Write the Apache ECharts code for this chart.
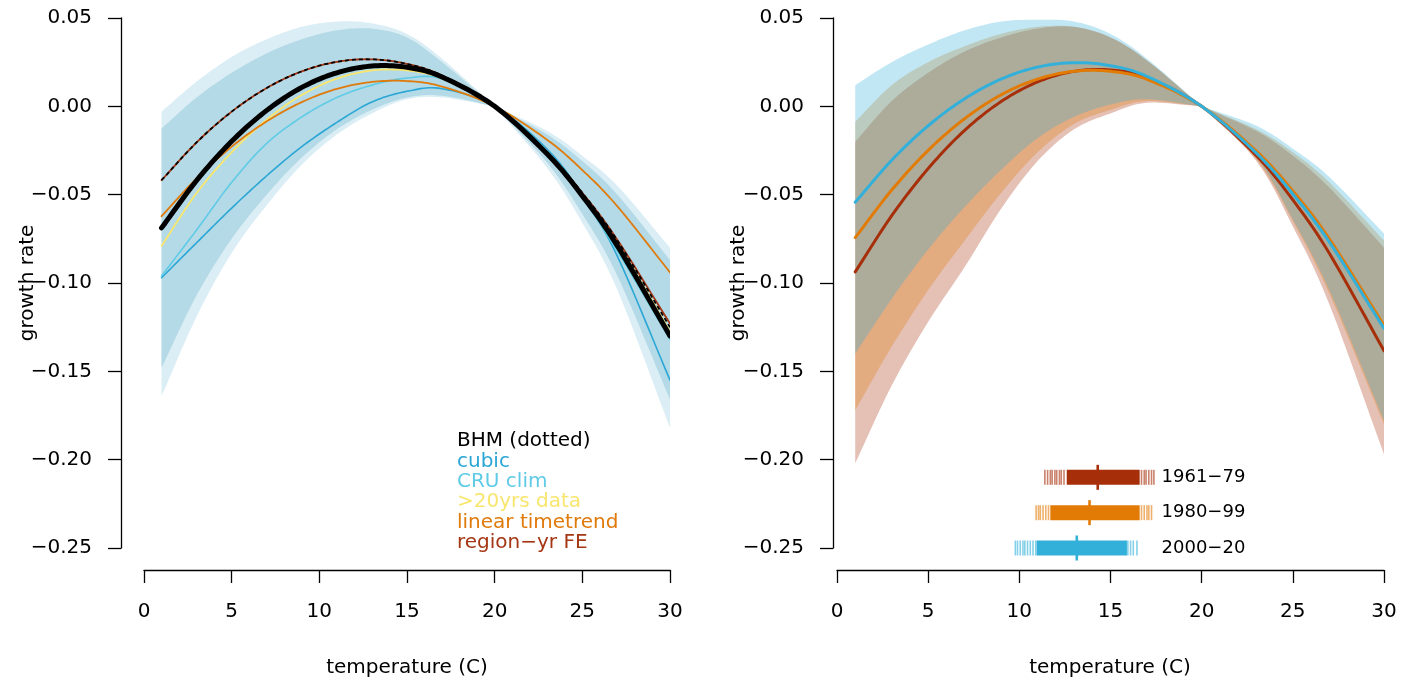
<!DOCTYPE html>
<html><head><meta charset="utf-8">
<script src="https://cdn.jsdelivr.net/npm/echarts@6/dist/echarts.min.js"></script>
<style>html,body{margin:0;padding:0;background:#fff}#c{width:1416px;height:687px}</style>
</head><body><div id="c"></div>
<script>
// ---------- data (temperature grid) ----------
const X = [1, 3, 5, 7, 9, 11, 13, 15, 17, 20, 23, 25, 27, 30];
const PINCH = 20; // all curves are normalised to 0 at 20 C

// left panel: model variants
const bhm        = [-0.0688,-0.0420,-0.0198,-0.0023,0.0107,0.0190,0.0228,0.0221,0.0166,0,-0.0270,-0.0507,-0.0790,-0.1300];
const bhmDotted  = [-0.0418,-0.0204,-0.0030,0.0104,0.0198,0.0252,0.0266,0.0240,0.0174,0,-0.0264,-0.0490,-0.0760,-0.1250];
const regionFE   = [-0.0418,-0.0204,-0.0030,0.0104,0.0198,0.0252,0.0266,0.0240,0.0174,0,-0.0264,-0.0490,-0.0756,-0.1230];
const cubic      = [-0.0970,-0.0772,-0.0576,-0.0393,-0.0228,-0.0091,0.0025,0.0085,0.0100,0,-0.0243,-0.0503,-0.0849,-0.1550];
const cruClim    = [-0.0960,-0.0700,-0.0430,-0.0210,-0.0060,0.0050,0.0120,0.0160,0.0155,0,-0.0270,-0.0520,-0.0820,-0.1320];
const over20yrs  = [-0.0790,-0.0491,-0.0260,-0.0075,0.0064,0.0157,0.0203,0.0203,0.0157,0,-0.0261,-0.0493,-0.0771,-0.1274];
const linTrend   = [-0.0622,-0.0408,-0.0228,-0.0085,0.0024,0.0099,0.0138,0.0143,0.0112,0,-0.0190,-0.0361,-0.0566,-0.0940];
// left panel uncertainty bands
const outerTop    = [-0.003,0.014,0.028,0.038,0.045,0.048,0.047,0.041,0.027,0,-0.014,-0.028,-0.045,-0.080];
const outerBottom = [-0.164,-0.119,-0.083,-0.056,-0.033,-0.016,-0.004,0.004,0.005,0,-0.035,-0.066,-0.104,-0.182];
const innerTop    = [-0.0125,0.005,0.019,0.030,0.038,0.043,0.044,0.039,0.025,0,-0.016,-0.031,-0.050,-0.087];
const innerBottom = [-0.148,-0.107,-0.075,-0.050,-0.029,-0.013,-0.002,0.005,0.006,0,-0.032,-0.061,-0.096,-0.166];

// right panel: periods
const p1961 = [-0.0937,-0.0619,-0.0352,-0.0136,0.0027,0.0138,0.0198,0.0206,0.0163,0,-0.0279,-0.0530,-0.0832,-0.1383];
const p1980 = [-0.0743,-0.0474,-0.0249,-0.0070,0.0065,0.0154,0.0199,0.0198,0.0153,0,-0.0254,-0.0479,-0.0750,-0.1240];
const p2000 = [-0.0543,-0.0305,-0.0110,0.0043,0.0154,0.0222,0.0247,0.0230,0.0170,0,-0.0265,-0.0496,-0.0768,-0.1257];
const p1961Top = [-0.020,0.003,0.019,0.031,0.039,0.044,0.045,0.039,0.026,0,-0.014,-0.028,-0.046,-0.080];
const p1961Bot = [-0.202,-0.158,-0.122,-0.091,-0.058,-0.031,-0.013,-0.004,0.002,0,-0.031,-0.068,-0.112,-0.197];
const p1980Top = [-0.0087,0.012,0.025,0.034,0.041,0.045,0.045,0.039,0.026,0,-0.013,-0.026,-0.043,-0.076];
const p1980Bot = [-0.172,-0.136,-0.104,-0.076,-0.049,-0.026,-0.010,-0.002,0.003,0,-0.030,-0.065,-0.106,-0.180];
const p2000Top = [0.012,0.025,0.035,0.043,0.048,0.049,0.048,0.041,0.027,0,-0.011,-0.024,-0.040,-0.072];
const p2000Bot = [-0.140,-0.109,-0.081,-0.057,-0.036,-0.018,-0.006,0.001,0.004,0,-0.029,-0.064,-0.104,-0.178];

// rug of observed temperatures per period
const rugLabels  = ['1961\u221279', '1980\u221299', '2000\u221220'];
const rugRowY    = [-0.21, -0.23, -0.25];
const rugMedian  = [14.3, 13.85, 13.15];
const rugDense   = [[12.6, 16.6], [11.7, 16.6], [10.95, 15.9]];
const rugSparse1961 = [11.4, 11.55, 11.7, 11.8, 11.95, 12.05, 12.2, 12.3, 12.45, 16.7, 16.85, 16.95, 17.1, 17.25, 17.38];
const rugSparse1980 = [10.92, 11.05, 11.15, 11.3, 11.45, 11.6, 16.7, 16.85, 17.0, 17.1, 17.25];
const rugSparse2000 = [9.78, 9.9, 10.05, 10.2, 10.3, 10.45, 10.6, 10.75, 10.9, 15.95, 16.1, 16.25, 16.45];

// axes ticks / labels
const xTicks = [0, 5, 10, 15, 20, 25, 30];
const yTicks = [-0.25, -0.20, -0.15, -0.10, -0.05, 0.00, 0.05];
const legendLabels = ['BHM (dotted)', 'cubic', 'CRU clim', '>20yrs data', 'linear timetrend', 'region\u2212yr FE'];

// ---------- styles ----------
const FONT = 'DejaVu Sans';
const C = {
  cubic: '#2ba6d5', cru: '#5fcbe6', yellow: '#f8e66e', orange: '#e07a0b', red: '#a53613',
  outer: '#dceef5', inner: '#b3dae6',
  r1961: '#a62f0a', r1980: '#e27b06', r2000: '#33b0da'
};
const legendColors = ['#000000', C.cubic, C.cru, C.yellow, C.orange, C.red];
const rugColors = [C.r1961, C.r1980, C.r2000];

// Catmull-Rom smoothing of pixel points (drawing only)
function spline(pts, n) {
  const out = [pts[0]];
  const N = pts.length;
  for (let i = 0; i < N - 1; i++) {
    const p1 = pts[i], p2 = pts[i + 1];
    const p0 = i > 0 ? pts[i - 1] : [2 * p1[0] - p2[0], 2 * p1[1] - p2[1]];
    const p3 = i < N - 2 ? pts[i + 2] : [2 * p2[0] - p1[0], 2 * p2[1] - p1[1]];
    for (let k = 1; k <= n; k++) {
      const t = k / n, t2 = t * t, t3 = t2 * t;
      const f = j => 0.5 * (2 * p1[j] + (-p0[j] + p2[j]) * t + (2 * p0[j] - 5 * p1[j] + 4 * p2[j] - p3[j]) * t2 + (-p0[j] + 3 * p1[j] - 3 * p2[j] + p3[j]) * t3);
      out.push([f(0), f(1)]);
    }
  }
  return out;
}
// band edges are smoothed separately on each side of the pinch point
function splitSpline(pts) {
  const k = X.indexOf(PINCH);
  const a = spline(pts.slice(0, k + 1), 12);
  const b = spline(pts.slice(k), 12);
  return a.concat(b.slice(1));
}

function bandSeries(lo, hi, color, opacity, gi, z) {
  return {type: 'custom', xAxisIndex: gi, yAxisIndex: gi, z: z, silent: true, clip: true,
    data: [[X[0], lo[0]]],
    renderItem: function (params, api) {
      const up = splitSpline(X.map((x, i) => api.coord([x, hi[i]])));
      const dn = splitSpline(X.map((x, i) => api.coord([x, lo[i]]))).reverse();
      return {type: 'polygon', shape: {points: up.concat(dn)}, style: {fill: color, opacity: opacity}};
    }};
}
function lineSeries(ys, color, width, gi, z, dash) {
  return {type: 'custom', xAxisIndex: gi, yAxisIndex: gi, z: z, silent: true, clip: true,
    data: [[X[0], ys[0]]],
    renderItem: function (params, api) {
      const pts = spline(X.map((x, i) => api.coord([x, ys[i]])), 12);
      return {type: 'polyline', shape: {points: pts},
        style: {stroke: color, lineWidth: width, fill: null, lineDash: dash || null, lineCap: dash ? 'butt' : 'round', lineJoin: 'round'}};
    }};
}

const fmtY = v => Math.abs(v) < 1e-9 ? '0.00' : (v < 0 ? '\u2212' : '') + Math.abs(v).toFixed(2);

function xAxisCfg(gi) {
  return {gridIndex: gi, type: 'value', min: xTicks[0], max: xTicks[xTicks.length - 1], interval: 5, offset: 22,
    axisLine: {show: true, onZero: false, lineStyle: {color: '#000', width: 1.3}},
    axisTick: {show: true, length: 13, lineStyle: {color: '#000', width: 1.3}},
    axisLabel: {margin: 32, fontFamily: FONT, fontSize: 20, color: '#000'},
    splitLine: {show: false}};
}
function yAxisCfg(gi, off) {
  return {gridIndex: gi, type: 'value', min: yTicks[0], max: yTicks[yTicks.length - 1], interval: 0.05, offset: off,
    axisLine: {show: true, onZero: false, lineStyle: {color: '#000', width: 1.3}},
    axisTick: {show: true, length: 13, lineStyle: {color: '#000', width: 1.3}},
    axisLabel: {margin: 29, fontFamily: FONT, fontSize: 20, color: '#000', formatter: fmtY},
    splitLine: {show: false}};
}

const series = [];
// left bands
series.push(bandSeries(outerBottom, outerTop, C.outer, 1, 0, 1));
series.push(bandSeries(innerBottom, innerTop, C.inner, 1, 0, 2));
// left lines
series.push(lineSeries(cubic, C.cubic, 1.6, 0, 3));
series.push(lineSeries(cruClim, C.cru, 1.6, 0, 3));
series.push(lineSeries(over20yrs, C.yellow, 1.8, 0, 3));
series.push(lineSeries(linTrend, C.orange, 1.8, 0, 3));
series.push(lineSeries(regionFE, C.red, 1.8, 0, 4));
series.push(lineSeries(bhm, '#000', 5, 0, 5));
series.push(lineSeries(bhmDotted, '#000', 1.8, 0, 6, [4, 3]));
// right bands
series.push(bandSeries(p1961Bot, p1961Top, C.r1961, 0.3, 1, 1));
series.push(bandSeries(p1980Bot, p1980Top, C.r1980, 0.3, 1, 1));
series.push(bandSeries(p2000Bot, p2000Top, C.r2000, 0.3, 1, 1));
// right lines
series.push(lineSeries(p1961, C.r1961, 3, 1, 5));
series.push(lineSeries(p1980, C.r1980, 3, 1, 5));
series.push(lineSeries(p2000, C.r2000, 3, 1, 5));

// rugs: dense ranges + labels
series.push({
  type: 'custom', xAxisIndex: 1, yAxisIndex: 1, z: 8, silent: true, clip: false,
  data: rugDense.map((r, i) => [r[0], r[1], i]),
  encode: {x: [0, 1]},
  renderItem: function (params, api) {
    const row = api.value(2);
    const a = api.coord([api.value(0), rugRowY[row]]);
    const b = api.coord([api.value(1), rugRowY[row]]);
    const lab = api.coord([17.8, rugRowY[row]]);
    return {type: 'group', children: [
      {type: 'rect', shape: {x: a[0], y: a[1] - 7.5, width: b[0] - a[0], height: 15}, style: {fill: rugColors[row]}},
      {type: 'text', x: lab[0], y: lab[1], style: {text: rugLabels[row], fontFamily: FONT, fontSize: 18, fill: '#000', align: 'left', verticalAlign: 'middle'}}
    ]};
  }
});
// rugs: sparse ticks and medians
const rugTicks = [];
[rugSparse1961, rugSparse1980, rugSparse2000].forEach((arr, row) => arr.forEach(v => rugTicks.push([v, row, 1])));
rugMedian.forEach((v, row) => rugTicks.push([v, row, 2]));
series.push({
  type: 'custom', xAxisIndex: 1, yAxisIndex: 1, z: 9, silent: true, clip: false,
  data: rugTicks,
  encode: {x: 0},
  renderItem: function (params, api) {
    const row = api.value(1), kind = api.value(2);
    const p = api.coord([api.value(0), rugRowY[row]]);
    const h = kind === 2 ? 25 : 15, w = kind === 2 ? 2.6 : 1.6;
    return {type: 'rect', shape: {x: p[0] - w / 2, y: p[1] - h / 2, width: w, height: h},
      style: {fill: rugColors[row], opacity: kind === 1 ? 0.6 : 1}};
  }
});

// legend text (left panel)
const graphics = legendLabels.map((t, i) => ({
  type: 'text', left: 457, top: 443 + i * 20.4 - 12, silent: true,
  style: {text: t, fontFamily: FONT, fontSize: 20, fill: legendColors[i]}
}));
// axis titles
[[28, 283], [739, 283]].forEach(p => graphics.push({type: 'text', x: p[0], y: p[1], rotation: Math.PI / 2, silent: true,
  style: {text: 'growth rate', fontFamily: FONT, fontSize: 20, fill: '#000', align: 'center', verticalAlign: 'middle'}}));
[[407, 668], [1110, 668]].forEach(p => graphics.push({type: 'text', x: p[0], y: p[1], silent: true,
  style: {text: 'temperature (C)', fontFamily: FONT, fontSize: 20, fill: '#000', align: 'center', verticalAlign: 'middle'}}));

const chart = echarts.init(document.getElementById('c'), null, {renderer: 'canvas'});
chart.setOption({
  animation: false,
  backgroundColor: '#fff',
  grid: [
    {left: 144, top: 18, width: 526, height: 530},
    {left: 837, top: 18, width: 547, height: 530}
  ],
  xAxis: [xAxisCfg(0), xAxisCfg(1)],
  yAxis: [yAxisCfg(0, 23), yAxisCfg(1, 4)],
  series: series,
  graphic: graphics
});
</script></body></html>
